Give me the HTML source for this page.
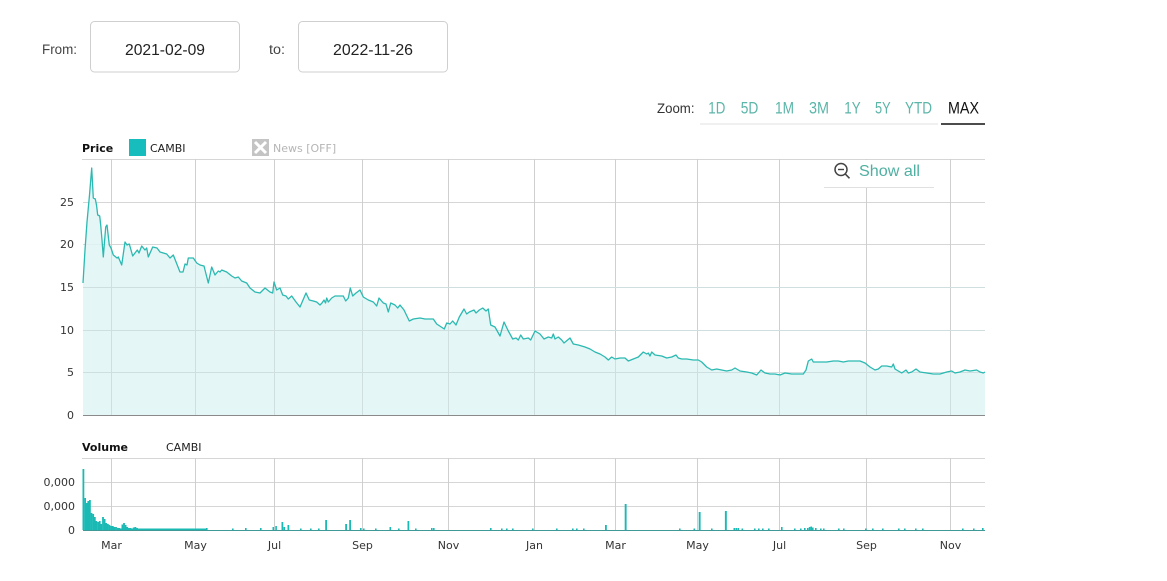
<!DOCTYPE html>
<html><head><meta charset="utf-8"><style>
html,body{margin:0;padding:0;background:#fff;}
svg{display:block;}
</style></head><body>
<svg width="1167" height="581" viewBox="0 0 1167 581" xmlns="http://www.w3.org/2000/svg">
<rect width="1167" height="581" fill="#fff"/>
<text x="42" y="54" font-family="Liberation Sans, sans-serif" font-size="13.5" fill="#444" textLength="35" lengthAdjust="spacingAndGlyphs">From:</text>
<rect x="90.5" y="21.5" width="149" height="50.5" rx="4" fill="#fff" stroke="#cfcfcf"/>
<text x="125" y="55" font-family="Liberation Sans, sans-serif" font-size="16" fill="#222" textLength="80" lengthAdjust="spacingAndGlyphs">2021-02-09</text>
<text x="269" y="54" font-family="Liberation Sans, sans-serif" font-size="13.5" fill="#444" textLength="16" lengthAdjust="spacingAndGlyphs">to:</text>
<rect x="298.5" y="21.5" width="149" height="50.5" rx="4" fill="#fff" stroke="#cfcfcf"/>
<text x="333" y="55" font-family="Liberation Sans, sans-serif" font-size="16" fill="#222" textLength="80" lengthAdjust="spacingAndGlyphs">2022-11-26</text>
<text x="657" y="113" font-family="Liberation Sans, sans-serif" font-size="13.5" fill="#333" textLength="37.5" lengthAdjust="spacingAndGlyphs">Zoom:</text>
<g font-family="Liberation Sans, sans-serif" font-size="17" fill="#5bb5a8">
<text x="708.3" y="113.3" textLength="17" lengthAdjust="spacingAndGlyphs">1D</text>
<text x="740.7" y="113.3" textLength="17.6" lengthAdjust="spacingAndGlyphs">5D</text>
<text x="775" y="113.3" textLength="19" lengthAdjust="spacingAndGlyphs">1M</text>
<text x="809" y="113.3" textLength="20" lengthAdjust="spacingAndGlyphs">3M</text>
<text x="844.3" y="113.3" textLength="16.4" lengthAdjust="spacingAndGlyphs">1Y</text>
<text x="875" y="113.3" textLength="15.7" lengthAdjust="spacingAndGlyphs">5Y</text>
<text x="905" y="113.3" textLength="27" lengthAdjust="spacingAndGlyphs">YTD</text>
<text x="948" y="113.3" textLength="31" lengthAdjust="spacingAndGlyphs" fill="#111">MAX</text>
</g>
<line x1="700" y1="124" x2="938" y2="124" stroke="#e2e2e2" stroke-width="1"/>
<line x1="941" y1="124" x2="985" y2="124" stroke="#111" stroke-width="1.5"/>
<text x="82" y="152" font-family="DejaVu Sans, sans-serif" font-size="11" font-weight="bold" fill="#111">Price</text>
<rect x="129" y="139" width="17" height="17" fill="#17bdbd"/>
<text x="150" y="152" font-family="DejaVu Sans, sans-serif" font-size="11" fill="#222">CAMBI</text>
<rect x="252" y="139" width="17" height="17" fill="#c4c4c4"/>
<path d="M255 142 L266 153 M266 142 L255 153" stroke="#fff" stroke-width="3"/>
<text x="273" y="152" font-family="DejaVu Sans, sans-serif" font-size="11" fill="#b5b5b5">News [OFF]</text>
<g stroke="#d6d6d6" stroke-width="1">
<line x1="82" y1="159.5" x2="985" y2="159.5"/>
<line x1="83" y1="202.5" x2="985" y2="202.5"/>
<line x1="83" y1="244.5" x2="985" y2="244.5"/>
<line x1="83" y1="287.5" x2="985" y2="287.5"/>
<line x1="83" y1="330.5" x2="985" y2="330.5"/>
<line x1="83" y1="372.5" x2="985" y2="372.5"/>
</g>
<g stroke="#cfcfcf" stroke-width="1">
<line x1="111.5" y1="159" x2="111.5" y2="415"/>
<line x1="195.5" y1="159" x2="195.5" y2="415"/>
<line x1="274.5" y1="159" x2="274.5" y2="415"/>
<line x1="362.5" y1="159" x2="362.5" y2="415"/>
<line x1="448.5" y1="159" x2="448.5" y2="415"/>
<line x1="534.5" y1="159" x2="534.5" y2="415"/>
<line x1="615.5" y1="159" x2="615.5" y2="415"/>
<line x1="697.5" y1="159" x2="697.5" y2="415"/>
<line x1="779.5" y1="159" x2="779.5" y2="415"/>
<line x1="866.5" y1="159" x2="866.5" y2="415"/>
<line x1="950.5" y1="159" x2="950.5" y2="415"/>
</g>
<path fill="#dff4f4" fill-opacity="0.85" stroke="none" d="M83,283 L85,250 L87,222 L89.5,195 L91.7,168 L93.3,198 L95.3,199 L96.5,205 L97.7,215 L99.7,216 L100.7,225 L102,240 L103.3,257 L105.7,227 L107,225 L109.3,245 L111,248 L113.3,255 L117,258 L118.3,257 L121.7,265 L125,242 L127,245 L129.3,244 L132.7,256 L137.3,250 L139,253 L141.7,246 L145,250 L146.7,248 L148.3,257 L152.7,247 L157,248 L160,252 L166.7,254 L170,258 L173.3,255 L180,272 L183,272 L185,264 L187,265 L188.3,258 L193.3,258 L196.7,263 L200,265 L204,266 L208.3,283 L211.7,267 L215,275 L218.3,271 L220,272 L221.7,270 L226.7,272 L231.7,276 L235,278 L238.3,277 L241.7,281 L246.7,283 L250,288 L255,292 L260,293 L265,288 L270,292 L272.7,293 L274,282 L276.7,290 L280,288 L282.7,295 L286,296 L288.3,299 L291.7,296 L296,302 L300,307 L306,293 L309.3,300 L313.3,301 L316.7,302 L320,305 L322,303 L324,300 L325.5,303 L326.7,298 L328.3,302 L331.7,298 L335,296 L340,296 L343.3,296 L345.7,301 L348.3,298 L350.3,288 L352.7,296 L356,293 L360,290 L363.3,297 L368.3,300 L373.3,302 L376.7,306 L379,298 L383.3,303 L386,304 L388.3,312 L390.7,303 L395,305 L397.7,308 L400,305 L404,310 L409.3,321 L413.3,319 L420,318 L425,319 L433.3,319 L436.7,324 L444.3,329 L446.7,323 L450,324 L452.7,321 L456,325 L459.3,317 L464,309 L466.7,314 L469.3,312 L474,310 L476,313 L479.3,310 L482.7,308 L486,311 L488.3,309 L490.7,325 L495,327 L500,336 L504,322 L508.3,331 L512.7,339 L516,338 L518.3,340 L520.7,335 L523.3,339 L528.3,338 L530.7,340 L535,331 L540,334 L544,339 L548.3,337 L551.7,338 L553.3,334 L555,339 L558.3,337 L561.7,340 L564,343 L570,338 L573.3,344 L578.3,345 L585,347 L590,349 L595,352 L600,354 L605,357 L608.3,360 L611.7,357 L615,359 L620,358 L625,358 L628.3,361 L633.3,359 L638.3,357 L643.3,352 L646.7,354 L648.3,353 L650,356 L651.7,352 L655,355 L661.7,356 L666.7,358 L671.7,357 L676,355 L678.3,358 L681.7,359 L686.7,359 L693.3,360 L698.3,360 L701.7,362 L706.7,367 L711.7,370 L716.7,369 L721.7,370 L726.7,371 L731.7,370 L735,368 L740,371 L746.7,372 L751.7,373 L756.7,375 L761,370 L765,373 L770,374 L775,374 L780,375 L785,373 L791.7,374 L798.3,374 L803.3,374 L806,370 L808.3,361 L811.7,359 L813.3,362 L820,362 L826.7,362 L833.3,361 L838.3,361 L843.3,362 L848.3,361 L853.3,361 L860,361 L865,363 L870,367 L875,370 L878.3,369 L881.7,366 L886.7,366 L891.7,367 L893.3,364 L895,369 L898.3,371 L901.7,373 L906,370 L908.3,373 L911.7,372 L916,369 L920,372 L926.7,373 L933.3,374 L940,374 L946.7,372 L951.7,371 L955,373 L960,372 L965,370 L970,371 L976.7,370 L980,372 L983.3,373 L985,372 L985,415 L83,415 Z"/>
<g stroke="#cfdede" stroke-width="1">
<line x1="83" y1="287.5" x2="985" y2="287.5"/>
<line x1="83" y1="330.5" x2="985" y2="330.5"/>
<line x1="83" y1="372.5" x2="985" y2="372.5"/>
<line x1="111.5" y1="250" x2="111.5" y2="415"/>
<line x1="195.5" y1="265" x2="195.5" y2="415"/>
<line x1="274.5" y1="285" x2="274.5" y2="415"/>
<line x1="362.5" y1="300" x2="362.5" y2="415"/>
<line x1="448.5" y1="326" x2="448.5" y2="415"/>
<line x1="534.5" y1="333" x2="534.5" y2="415"/>
<line x1="615.5" y1="360" x2="615.5" y2="415"/>
<line x1="697.5" y1="361" x2="697.5" y2="415"/>
<line x1="779.5" y1="376" x2="779.5" y2="415"/>
<line x1="866.5" y1="364" x2="866.5" y2="415"/>
<line x1="950.5" y1="372" x2="950.5" y2="415"/>
</g>
<polyline fill="none" stroke="#2bb9b1" stroke-width="1.3" stroke-linejoin="round" points="83,283 85,250 87,222 89.5,195 91.7,168 93.3,198 95.3,199 96.5,205 97.7,215 99.7,216 100.7,225 102,240 103.3,257 105.7,227 107,225 109.3,245 111,248 113.3,255 117,258 118.3,257 121.7,265 125,242 127,245 129.3,244 132.7,256 137.3,250 139,253 141.7,246 145,250 146.7,248 148.3,257 152.7,247 157,248 160,252 166.7,254 170,258 173.3,255 180,272 183,272 185,264 187,265 188.3,258 193.3,258 196.7,263 200,265 204,266 208.3,283 211.7,267 215,275 218.3,271 220,272 221.7,270 226.7,272 231.7,276 235,278 238.3,277 241.7,281 246.7,283 250,288 255,292 260,293 265,288 270,292 272.7,293 274,282 276.7,290 280,288 282.7,295 286,296 288.3,299 291.7,296 296,302 300,307 306,293 309.3,300 313.3,301 316.7,302 320,305 322,303 324,300 325.5,303 326.7,298 328.3,302 331.7,298 335,296 340,296 343.3,296 345.7,301 348.3,298 350.3,288 352.7,296 356,293 360,290 363.3,297 368.3,300 373.3,302 376.7,306 379,298 383.3,303 386,304 388.3,312 390.7,303 395,305 397.7,308 400,305 404,310 409.3,321 413.3,319 420,318 425,319 433.3,319 436.7,324 444.3,329 446.7,323 450,324 452.7,321 456,325 459.3,317 464,309 466.7,314 469.3,312 474,310 476,313 479.3,310 482.7,308 486,311 488.3,309 490.7,325 495,327 500,336 504,322 508.3,331 512.7,339 516,338 518.3,340 520.7,335 523.3,339 528.3,338 530.7,340 535,331 540,334 544,339 548.3,337 551.7,338 553.3,334 555,339 558.3,337 561.7,340 564,343 570,338 573.3,344 578.3,345 585,347 590,349 595,352 600,354 605,357 608.3,360 611.7,357 615,359 620,358 625,358 628.3,361 633.3,359 638.3,357 643.3,352 646.7,354 648.3,353 650,356 651.7,352 655,355 661.7,356 666.7,358 671.7,357 676,355 678.3,358 681.7,359 686.7,359 693.3,360 698.3,360 701.7,362 706.7,367 711.7,370 716.7,369 721.7,370 726.7,371 731.7,370 735,368 740,371 746.7,372 751.7,373 756.7,375 761,370 765,373 770,374 775,374 780,375 785,373 791.7,374 798.3,374 803.3,374 806,370 808.3,361 811.7,359 813.3,362 820,362 826.7,362 833.3,361 838.3,361 843.3,362 848.3,361 853.3,361 860,361 865,363 870,367 875,370 878.3,369 881.7,366 886.7,366 891.7,367 893.3,364 895,369 898.3,371 901.7,373 906,370 908.3,373 911.7,372 916,369 920,372 926.7,373 933.3,374 940,374 946.7,372 951.7,371 955,373 960,372 965,370 970,371 976.7,370 980,372 983.3,373 985,372"/>
<line x1="83" y1="415.5" x2="985" y2="415.5" stroke="#8a8a8a" stroke-width="1"/>
<g font-family="DejaVu Sans, sans-serif" font-size="11" fill="#333" text-anchor="end">
<text x="74" y="206">25</text>
<text x="74" y="248">20</text>
<text x="74" y="291">15</text>
<text x="74" y="334">10</text>
<text x="74" y="376">5</text>
<text x="74" y="419">0</text>
</g>
<rect x="824" y="160" width="110" height="27" fill="#fff"/>
<circle cx="841" cy="169.5" r="6" fill="none" stroke="#444" stroke-width="1.5"/>
<line x1="838" y1="169.5" x2="844" y2="169.5" stroke="#444" stroke-width="1.4"/>
<line x1="845.3" y1="174" x2="849.5" y2="178.3" stroke="#444" stroke-width="1.6"/>
<text x="859" y="176" font-family="Liberation Sans, sans-serif" font-size="16" fill="#4fb0a2" textLength="61" lengthAdjust="spacingAndGlyphs">Show all</text>
<line x1="824" y1="187.5" x2="934" y2="187.5" stroke="#e0e0e0" stroke-width="1"/>
<text x="82" y="451" font-family="DejaVu Sans, sans-serif" font-size="11" font-weight="bold" fill="#111">Volume</text>
<text x="166" y="451" font-family="DejaVu Sans, sans-serif" font-size="11" fill="#222">CAMBI</text>
<g stroke="#d6d6d6" stroke-width="1">
<line x1="82" y1="458.5" x2="985" y2="458.5"/>
<line x1="83" y1="482.5" x2="985" y2="482.5"/>
<line x1="83" y1="506.5" x2="985" y2="506.5"/>
</g>
<g stroke="#cfcfcf" stroke-width="1">
<line x1="111.5" y1="458" x2="111.5" y2="530"/>
<line x1="195.5" y1="458" x2="195.5" y2="530"/>
<line x1="274.5" y1="458" x2="274.5" y2="530"/>
<line x1="362.5" y1="458" x2="362.5" y2="530"/>
<line x1="448.5" y1="458" x2="448.5" y2="530"/>
<line x1="534.5" y1="458" x2="534.5" y2="530"/>
<line x1="615.5" y1="458" x2="615.5" y2="530"/>
<line x1="697.5" y1="458" x2="697.5" y2="530"/>
<line x1="779.5" y1="458" x2="779.5" y2="530"/>
<line x1="866.5" y1="458" x2="866.5" y2="530"/>
<line x1="950.5" y1="458" x2="950.5" y2="530"/>
</g>
<g fill="#1ab9b4">
<rect x="82.5" y="469" width="1.8" height="61"/>
<rect x="84.2" y="498" width="1.8" height="32"/>
<rect x="85.8" y="503" width="1.8" height="27"/>
<rect x="87.4" y="501" width="1.8" height="29"/>
<rect x="89" y="500" width="1.8" height="30"/>
<rect x="90.6" y="513" width="1.8" height="17"/>
<rect x="92.3" y="514" width="1.8" height="16"/>
<rect x="93.9" y="517" width="1.8" height="13"/>
<rect x="95.5" y="521" width="1.8" height="9"/>
<rect x="97.2" y="522" width="1.8" height="8"/>
<rect x="98.8" y="521" width="1.8" height="9"/>
<rect x="100.4" y="524" width="1.8" height="6"/>
<rect x="102.1" y="517" width="1.8" height="13"/>
<rect x="103.7" y="519" width="1.8" height="11"/>
<rect x="105.3" y="523" width="1.8" height="7"/>
<rect x="107" y="524" width="1.8" height="6"/>
<rect x="108.6" y="525" width="1.8" height="5"/>
<rect x="110.2" y="526" width="1.8" height="4"/>
<rect x="111.9" y="526" width="1.8" height="4"/>
<rect x="113.5" y="527" width="1.8" height="3"/>
<rect x="115.1" y="527" width="1.8" height="3"/>
<rect x="116.8" y="528" width="1.8" height="2"/>
<rect x="118.4" y="528" width="1.8" height="2"/>
<rect x="121.5" y="524.5" width="1.8" height="5.5"/>
<rect x="123.1" y="523" width="1.8" height="7"/>
<rect x="124.7" y="525" width="1.8" height="5"/>
<rect x="126.3" y="527" width="1.8" height="3"/>
<rect x="128" y="528" width="1.8" height="2"/>
<rect x="129.6" y="528" width="1.8" height="2"/>
<rect x="132.8" y="527.5" width="1.8" height="2.5"/>
<rect x="134.5" y="527" width="1.8" height="3"/>
<rect x="136.1" y="528" width="1.8" height="2"/>
<rect x="120" y="528.5" width="86" height="1.5"/>
<rect x="206" y="528" width="1.6" height="2"/>
<rect x="232" y="528.5" width="1.6" height="1.5"/>
<rect x="245" y="528" width="1.6" height="2"/>
<rect x="260" y="528" width="1.6" height="2"/>
<rect x="272.5" y="527" width="1.6" height="3"/>
<rect x="275.3" y="526" width="1.6" height="4"/>
<rect x="281.5" y="522" width="1.8" height="8"/>
<rect x="283.5" y="527" width="1.6" height="3"/>
<rect x="287.5" y="525" width="1.8" height="5"/>
<rect x="300" y="528.5" width="1.6" height="1.5"/>
<rect x="310" y="528.5" width="1.6" height="1.5"/>
<rect x="318" y="528.5" width="1.6" height="1.5"/>
<rect x="325.2" y="520" width="1.8" height="10"/>
<rect x="345.2" y="524" width="1.8" height="6"/>
<rect x="349.2" y="520" width="1.8" height="10"/>
<rect x="360" y="528" width="1.6" height="2"/>
<rect x="363" y="528.5" width="1.6" height="1.5"/>
<rect x="375" y="528.5" width="1.6" height="1.5"/>
<rect x="389.5" y="527" width="1.6" height="3"/>
<rect x="398" y="528.5" width="1.6" height="1.5"/>
<rect x="407.5" y="521" width="1.8" height="9"/>
<rect x="415" y="528.5" width="1.6" height="1.5"/>
<rect x="431" y="528" width="1.6" height="2"/>
<rect x="433" y="528" width="1.6" height="2"/>
<rect x="490" y="528" width="1.6" height="2"/>
<rect x="501" y="528.5" width="1.6" height="1.5"/>
<rect x="506" y="528.5" width="1.6" height="1.5"/>
<rect x="512" y="528.5" width="1.6" height="1.5"/>
<rect x="532" y="528.5" width="1.6" height="1.5"/>
<rect x="556" y="528.5" width="1.6" height="1.5"/>
<rect x="572" y="528.5" width="1.6" height="1.5"/>
<rect x="576" y="528.5" width="1.6" height="1.5"/>
<rect x="583" y="528.5" width="1.6" height="1.5"/>
<rect x="605" y="525" width="1.8" height="5"/>
<rect x="624.7" y="504" width="1.9" height="26"/>
<rect x="679" y="528.5" width="1.6" height="1.5"/>
<rect x="693.5" y="528.5" width="1.6" height="1.5"/>
<rect x="698.7" y="512" width="1.9" height="18"/>
<rect x="711" y="528.5" width="1.6" height="1.5"/>
<rect x="724.9" y="511" width="1.9" height="19"/>
<rect x="733.5" y="528" width="1.6" height="2"/>
<rect x="735.5" y="528" width="1.6" height="2"/>
<rect x="737.5" y="528" width="1.6" height="2"/>
<rect x="741.5" y="528.5" width="1.6" height="1.5"/>
<rect x="754" y="528.5" width="1.6" height="1.5"/>
<rect x="758" y="528.5" width="1.6" height="1.5"/>
<rect x="762" y="528.5" width="1.6" height="1.5"/>
<rect x="768" y="528.5" width="1.6" height="1.5"/>
<rect x="781" y="527" width="1.6" height="3"/>
<rect x="794" y="528.5" width="1.6" height="1.5"/>
<rect x="800" y="528.5" width="1.6" height="1.5"/>
<rect x="804" y="528" width="1.6" height="2"/>
<rect x="807" y="528" width="1.6" height="2"/>
<rect x="808.8" y="527" width="1.6" height="3"/>
<rect x="810.4" y="526.5" width="1.6" height="3.5"/>
<rect x="812" y="527.5" width="1.6" height="2.5"/>
<rect x="815" y="528" width="1.6" height="2"/>
<rect x="820" y="528.5" width="1.6" height="1.5"/>
<rect x="823" y="528.5" width="1.6" height="1.5"/>
<rect x="838" y="528.5" width="1.6" height="1.5"/>
<rect x="843" y="528.5" width="1.6" height="1.5"/>
<rect x="865" y="528.5" width="1.6" height="1.5"/>
<rect x="872" y="528.5" width="1.6" height="1.5"/>
<rect x="882" y="528.5" width="1.6" height="1.5"/>
<rect x="898" y="528.5" width="1.6" height="1.5"/>
<rect x="904" y="528.5" width="1.6" height="1.5"/>
<rect x="915" y="528.5" width="1.6" height="1.5"/>
<rect x="922" y="528.5" width="1.6" height="1.5"/>
<rect x="962" y="528.5" width="1.6" height="1.5"/>
<rect x="973" y="528.5" width="1.6" height="1.5"/>
<rect x="982" y="528" width="1.6" height="2"/>
</g>
<line x1="83" y1="530.5" x2="985" y2="530.5" stroke="#3f9a97" stroke-width="1"/>
<g font-family="DejaVu Sans, sans-serif" font-size="11" fill="#333" text-anchor="end">
<text x="75" y="486">0,000</text>
<text x="75" y="510">0,000</text>
<text x="75" y="534">0</text>
</g>
<g font-family="DejaVu Sans, sans-serif" font-size="11" fill="#333" text-anchor="middle">
<text x="111.5" y="549">Mar</text>
<text x="195.5" y="549">May</text>
<text x="274.5" y="549">Jul</text>
<text x="362.5" y="549">Sep</text>
<text x="448.5" y="549">Nov</text>
<text x="534.5" y="549">Jan</text>
<text x="615.5" y="549">Mar</text>
<text x="697.5" y="549">May</text>
<text x="779.5" y="549">Jul</text>
<text x="866.5" y="549">Sep</text>
<text x="950.5" y="549">Nov</text>
</g>
</svg>
</body></html>
